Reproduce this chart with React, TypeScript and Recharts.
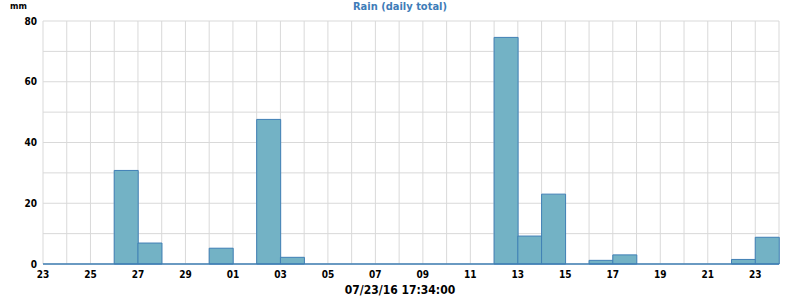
import React from 'react';
import { BarChart, Bar, XAxis, YAxis, CartesianGrid, ReferenceLine } from 'recharts';

// one entry per day, 06/23 .. 07/23
const days = [
  '06/23', '06/24', '06/25', '06/26', '06/27', '06/28', '06/29', '06/30',
  '07/01', '07/02', '07/03', '07/04', '07/05', '07/06', '07/07', '07/08',
  '07/09', '07/10', '07/11', '07/12', '07/13', '07/14', '07/15', '07/16',
  '07/17', '07/18', '07/19', '07/20', '07/21', '07/22', '07/23',
];
const rain = [
  0, 0, 0, 30.8, 6.9, 0, 0, 5.2,
  0, 47.6, 2.2, 0, 0, 0, 0, 0,
  0, 0, 0, 74.6, 9.2, 23.0, 0, 1.2,
  3.0, 0, 0, 0, 0, 1.5, 8.8,
];
const yTicks = [0, 10, 20, 30, 40, 50, 60, 70, 80];
const timestamp = '07/23/16 17:34:00';

const FONT = '"DejaVu Sans Condensed", "DejaVu Sans", sans-serif';

// bar i covers the day from tick i to tick i+1
const data = days.map((d, i) => ({ x: i + 0.5, day: d, rain: rain[i] }));
const xTicks = days.map((_, i) => i);

export default function App() {
  const tickStyle = { fontFamily: FONT, fontSize: 10, fontWeight: 'bold', fill: '#000' };
  return (
    <div style={{ position: 'absolute', left: 0, top: 0, width: 800, height: 300, background: '#fff' }}>
      <div style={{ position: 'absolute', left: 0, top: 0, width: 800, textAlign: 'center', fontFamily: FONT, fontSize: 11, fontWeight: 'bold', color: '#3e7cb8', lineHeight: '14px' }}>
        Rain (daily total)
      </div>
      <div style={{ position: 'absolute', left: 10, top: 0, fontFamily: FONT, fontSize: 9, fontWeight: 'bold', color: '#000', lineHeight: '12px' }}>
        mm
      </div>
      <BarChart width={800} height={300} data={data} margin={{ top: 21, right: 21, bottom: 0, left: 0 }} barCategoryGap={0} barGap={0}>
        <CartesianGrid stroke="#d9d9d9" />
        <XAxis
          dataKey="x"
          type="number"
          domain={[0, days.length]}
          ticks={xTicks}
          interval={0}
          tickFormatter={(v: number) => (v % 2 === 0 ? days[v].slice(3) : '')}
          axisLine={false}
          tickLine={false}
          tickSize={5}
          tickMargin={2}
          tick={tickStyle}
          height={36}
        />
        <YAxis
          domain={[0, 80]}
          ticks={yTicks}
          interval={0}
          tickFormatter={(v: number) => (v % 20 === 0 ? String(v) : '')}
          axisLine={false}
          tickLine={false}
          tickSize={4}
          tickMargin={2}
          tick={tickStyle}
          width={43}
        />
        <ReferenceLine y={0} stroke="#3f7fb5" strokeWidth={1.5} />
        <Bar dataKey="rain" fill="#73b2c5" stroke="#3f7fb5" strokeWidth={1} isAnimationActive={false} />
      </BarChart>
      <div style={{ position: 'absolute', left: 0, top: 282, width: 800, textAlign: 'center', fontFamily: FONT, fontSize: 12, fontWeight: 'bold', color: '#000', lineHeight: '16px' }}>
        {timestamp}
      </div>
    </div>
  );
}
